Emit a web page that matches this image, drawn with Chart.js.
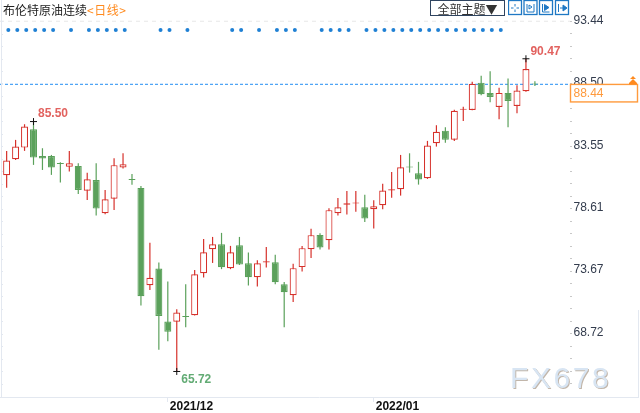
<!DOCTYPE html>
<html lang="zh">
<head>
  <meta charset="UTF-8">
  <title>布伦特原油连续</title>
  <script src="https://cdn.jsdelivr.net/npm/chart.js"></script>
  <style>
    html, body { margin: 0; padding: 0; background: #fff; }
    #wrap { position: relative; width: 640px; height: 413px; overflow: hidden; font-family: "Liberation Sans", Arial, sans-serif; }
    canvas { position: absolute; left: 0; top: 0; }
    .title { position: absolute; left: 3px; top: 2px; font: 12px/16px "Noto Sans CJK SC", sans-serif; color: #222; white-space: nowrap; }
    .title span { color: #ff8a1e; letter-spacing: 0.5px; }
    .theme { position: absolute; left: 430px; top: 0; width: 73px; height: 14px; border: 1px solid #2f4460; font: 12px/15px "Noto Sans CJK SC", sans-serif; color: #333; text-align: center; background: #fff; box-sizing: content-box; white-space: nowrap; }
    .icons { position: absolute; left: 508px; top: 0; }
    .arrow { position: absolute; left: 628px; top: 76px; }
    .mark { position: absolute; left: 510px; top: 360px; font: 30px/36px "Liberation Sans", Arial, sans-serif; letter-spacing: 2.6px; color: #d8e5f3; text-shadow: 1px 1px 0 #c2b6aa; white-space: nowrap; }
  </style>
</head>
<body>
<div id="wrap">
  <canvas id="kline" width="640" height="413"></canvas>
  <div class="mark">FX678</div>
  <div class="title">布伦特原油连续<span>&lt;日线&gt;</span></div>
  <div class="theme">全部主题▼</div>
  <svg class="icons" width="62" height="16" fill="none" stroke="#1f78c4" stroke-width="1">
    <rect x="0.5" y="0.5" width="13" height="14" stroke-width="1.3"/>
    <path d="M7 4v2.5M7 9.500V12M3 8h2.500M8.500 8H11"/>
    <rect x="16" y="0.5" width="13" height="14" stroke-width="1.3"/>
    <path d="M19 4v8M26 4v8M19 12h7M21 5v4l3-2z"/>
    <rect x="31.5" y="0.5" width="13" height="14" stroke-width="1.3"/>
    <path d="M34.500 4v8h7"/><path d="M36.500 4.500v6l4.500-3z" fill="#1f78c4"/>
    <rect x="47.5" y="0.5" width="13" height="14" stroke-width="1.3"/>
    <path d="M50.500 4v8M52 8h5"/><path d="M55 5v6l4-3z" fill="#1f78c4"/>
  </svg>
  <svg class="arrow" width="10" height="9" fill="#ff8a1e">
    <path d="M5 0l3 3H2zM5 3l4 4H1z"/><rect x="1" y="7" width="8" height="1.500"/>
  </svg>
</div>

<script>
  // OHLC, one entry per trading day
  const opens  = [81.25, 82.52, 83.44, 84.89, 82.78, 82.78, 82.17, 81.93, 81.99, 80.03,
                  80.88, 78.25, 79.40, 81.86, 80.91, 80.25, 72.55, 73.87, 69.67, 69.65,
                  70.08, 70.18, 73.50, 75.40, 75.79, 73.90, 75.71, 74.29, 73.18, 74.34,
                  74.37, 72.63, 71.76, 73.98, 75.40, 76.53, 76.11, 78.25, 78.91, 79.01,
                  78.72, 78.56, 78.88, 80.04, 80.15, 81.89, 81.41, 81.02, 83.79, 84.78,
                  84.07, 86.44, 86.42, 88.58, 87.77, 86.66, 87.77, 86.74, 87.90, 88.46];
  const highs  = [83.18, 84.05, 85.29, 85.50, 83.39, 82.86, 82.28, 83.18, 82.20, 81.44,
                  82.20, 80.09, 82.60, 82.99, 81.36, 80.41, 75.90, 74.34, 72.84, 70.65,
                  72.63, 73.76, 76.21, 76.37, 76.69, 75.66, 76.37, 75.13, 74.53, 75.58,
                  74.95, 72.81, 74.24, 75.66, 77.01, 76.66, 78.64, 79.46, 80.01, 80.01,
                  79.70, 79.28, 80.57, 81.51, 82.86, 82.99, 82.31, 83.97, 85.21, 85.05,
                  86.44, 86.68, 88.66, 89.13, 89.48, 88.18, 88.90, 88.37, 90.47, 88.69];
  const lows   = [80.27, 82.46, 83.18, 82.07, 81.67, 81.28, 80.67, 81.54, 79.77, 79.30,
                  78.06, 78.17, 78.51, 81.78, 80.49, 70.94, 72.16, 67.43, 68.12, 65.72,
                  69.23, 70.15, 73.15, 74.31, 73.82, 73.82, 74.15, 72.52, 72.44, 73.94,
                  72.63, 69.23, 71.21, 73.63, 74.71, 75.37, 75.37, 78.06, 78.14, 78.37,
                  77.56, 77.03, 78.56, 79.48, 79.64, 81.46, 80.51, 80.96, 83.52, 83.83,
                  83.97, 85.55, 86.40, 87.58, 87.03, 85.68, 85.05, 86.16, 87.87, 88.32];
  const closes = [82.41, 83.52, 85.10, 82.65, 82.57, 81.86, 82.14, 82.20, 80.09, 80.94,
                  78.61, 79.35, 82.05, 82.12, 80.88, 71.68, 73.13, 70.12, 68.86, 70.38,
                  70.04, 73.42, 75.16, 75.79, 73.97, 75.16, 74.18, 73.18, 74.29, 74.45,
                  72.79, 72.00, 73.90, 75.48, 76.51, 75.53, 78.49, 78.72, 79.04, 79.04,
                  77.82, 78.80, 80.04, 80.15, 81.89, 81.86, 80.91, 83.60, 84.70, 84.07,
                  86.36, 86.48, 88.48, 87.66, 87.45, 87.77, 87.13, 87.95, 89.66, 88.44];

  const yMajors = [93.44, 88.50, 83.55, 78.61, 73.67, 68.72];
  const xTickIdx = [18, 41];
  const xTickLabels = ["2021/12", "2022/01"];
  const signalIdx = [0, 1, 2, 3, 4, 5, 7, 9, 10, 11, 12, 13, 17, 18, 20, 25, 26, 28, 30, 31, 32,
                     35, 36, 37, 38, 40, 41, 42, 43, 44, 45, 46, 47, 48, 49, 50, 51, 52, 53, 54, 55];
  const signalLevel = 92.75;
  const lastPrice = 88.44;
  const extremes = [
    { idx: 3, val: 85.50, text: "85.50", below: false },
    { idx: 58, val: 90.47, text: "90.47", below: false },
    { idx: 19, val: 65.72, text: "65.72", below: true }
  ];

  const RED = "#d6312b", GREEN = "#5ba15b";
  const xMin = -0.7416, xMax = 62.92;
  const yMin = 63.70, yMax = 95.122;

  const upOrDown = (i, up, down) => closes[i] >= opens[i] ? up : down;
  const idxs = closes.map((_, i) => i);

  // extra drawing: axis lines, price box, high/low labels
  const overlay = {
    id: "overlay",
    afterDraw(chart) {
      const ctx = chart.ctx, x = chart.scales.x, y = chart.scales.y;
      const bottom = chart.chartArea.bottom;
      ctx.save();

      ctx.strokeStyle = "#e3e8f0";
      ctx.lineWidth = 1;
      ctx.beginPath();
      ctx.moveTo(1.5, 0); ctx.lineTo(1.5, bottom);
      ctx.moveTo(638.5, 310); ctx.lineTo(638.5, bottom);
      ctx.moveTo(0, bottom + 0.5); ctx.lineTo(639, bottom + 0.5);
      y.ticks.forEach(t => {
        const py = Math.round(y.getPixelForValue(t.value)) + 0.5;
        ctx.moveTo(1.5, py); ctx.lineTo(3, py);
      });
      x.ticks.forEach(t => {
        const px = Math.round(x.getPixelForValue(t.value)) - 0.5;
        ctx.moveTo(px, bottom); ctx.lineTo(px, bottom + 5);
      });
      ctx.stroke();

      ctx.font = "bold 12px 'Liberation Sans', Arial, sans-serif";
      ctx.textBaseline = "middle";
      extremes.forEach(e => {
        ctx.fillStyle = e.below ? "#62ab74" : "#e2625f";
        ctx.fillText(e.text, x.getPixelForValue(e.idx) + 4.5, y.getPixelForValue(e.val) + (e.below ? 8 : -7.5));
      });

      const py = y.getPixelForValue(lastPrice);
      ctx.fillStyle = "#fff";
      ctx.fillRect(570.5, py, 67, 17.5);
      ctx.strokeStyle = "#ff9a3c";
      ctx.lineWidth = 1.4;
      ctx.strokeRect(570.5, py, 67, 17.5);
      ctx.fillStyle = "#ff9a3c";
      ctx.font = "12px 'Liberation Sans', Arial, sans-serif";
      ctx.fillText(lastPrice.toFixed(2), 573.5, py + 9);
      ctx.restore();
    }
  };

  new Chart(document.getElementById("kline"), {
    data: {
      datasets: [
        {
          type: "line", order: 1,
          data: signalIdx.map(i => ({ x: i + 0.19, y: signalLevel })),
          showLine: false, pointRadius: 2, pointBorderWidth: 0, pointBackgroundColor: "#1f80d4"
        },
        {
          type: "line", order: 1,
          data: extremes.map(e => ({ x: e.idx, y: e.val })),
          showLine: false, pointStyle: "cross", pointRadius: 3.5, pointBorderWidth: 1, pointBorderColor: "#111"
        },
        {
          type: "line", order: 4,
          data: [{ x: xMin, y: lastPrice }, { x: xMax, y: lastPrice }],
          borderColor: "#4fa5f5", borderWidth: 1.4, borderDash: [3, 2], pointRadius: 0
        },
        {
          type: "line", order: 4,
          data: [{ x: xMin, y: yMajors[0] }, { x: xMax, y: yMajors[0] }],
          borderColor: "#e8e8e8", borderWidth: 1, borderDash: [4, 4], pointRadius: 0
        },
        {
          type: "bar", order: 3,
          data: idxs.map(i => ({ x: i, y: [lows[i], highs[i]] })),
          barThickness: 1.2, inflateAmount: 0, borderWidth: 0,
          backgroundColor: idxs.map(i => upOrDown(i, RED, GREEN))
        },
        {
          type: "bar", order: 2,
          data: idxs.map(i => ({ x: i, y: [opens[i], closes[i]] })),
          barThickness: 7, inflateAmount: 0, minBarLength: 1, borderWidth: 1.2, borderSkipped: false,
          borderColor: idxs.map(i => upOrDown(i, RED, GREEN)),
          backgroundColor: idxs.map(i => upOrDown(i, "#fff", GREEN))
        }
      ]
    },
    options: {
      responsive: false,
      animation: false,
      devicePixelRatio: 1,
      grouped: false,
      layout: { padding: 0, autoPadding: false },
      plugins: { legend: { display: false }, tooltip: { enabled: false } },
      scales: {
        x: {
          type: "linear", min: xMin, max: xMax, offset: false,
          afterBuildTicks(scale) { scale.ticks = xTickIdx.map(v => ({ value: v })); },
          afterFit(scale) { scale.height = 16; },
          grid: { display: false, tickLength: 5 },
          border: { display: false },
          ticks: {
            autoSkip: false, maxRotation: 0, align: "start", labelOffset: 2, padding: -3,
            color: "#111", font: { family: "'Liberation Sans', Arial, sans-serif", size: 12, weight: "bold" },
            callback: v => xTickLabels[xTickIdx.indexOf(v)] || ""
          }
        },
        y: {
          position: "right", min: yMin, max: yMax,
          afterBuildTicks(scale) {
            const list = [];
            yMajors.forEach(m => {
              for (let k = 0; k < 5; k++) list.push({ value: m - k * 0.989 });
            });
            scale.ticks = list;
          },
          afterFit(scale) {
            scale.width = 70;
            // no room kept for half a label above the first tick
            scale.paddingTop = 0;
            scale.paddingBottom = 0;
            scale._margins.top = 0;
            scale._margins.bottom = 0;
          },
          grid: { drawOnChartArea: false, color: "#c8c8c8", tickLength: 2 },
          border: { display: false },
          ticks: {
            autoSkip: false, padding: 1.5, labelOffset: -1,
            color: "#333c4d", font: { family: "'Liberation Sans', Arial, sans-serif", size: 12 },
            callback: v => yMajors.includes(v) ? v.toFixed(2) : ""
          }
        }
      }
    },
    plugins: [overlay]
  });
</script>
</body>
</html>
